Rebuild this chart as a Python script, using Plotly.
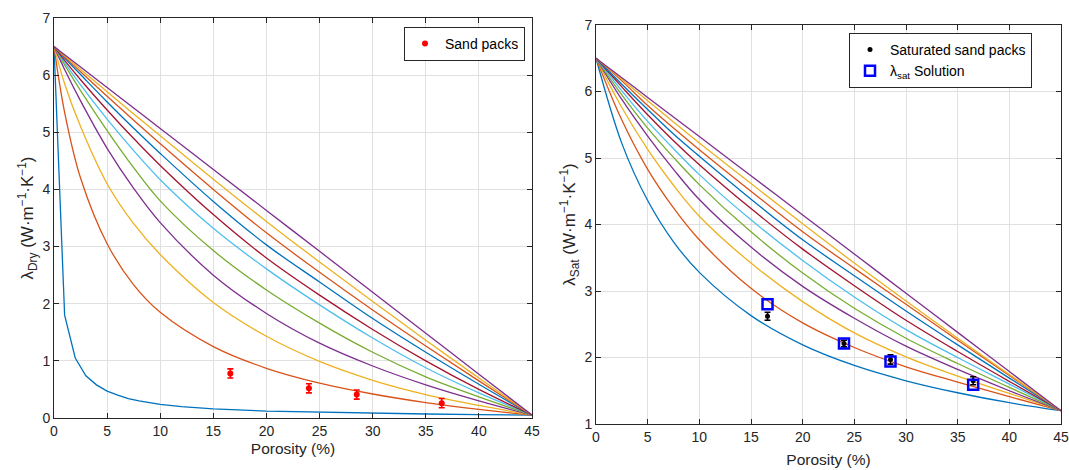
import plotly.graph_objects as go

# ---------------- data ----------------
phi_dry_c1 = [0, 1, 2, 3, 4, 5, 6, 7, 8, 10, 12, 15, 20, 25, 30, 35, 40, 45]
dry_c1 = [6.5, 1.8, 1.05, 0.74, 0.58, 0.47, 0.40, 0.34, 0.30, 0.24, 0.20, 0.16, 0.12, 0.10, 0.08, 0.07, 0.06, 0.05]

phi_dry = [0, 1, 2.5, 5, 7.5, 10, 15, 20, 25, 30, 35, 40, 45]
dry_c2 = [6.5, 5.35, 4.2, 3.05, 2.33, 1.85, 1.25, 0.87, 0.61, 0.42, 0.27, 0.15, 0.05]
dry_c3 = [6.5, 5.85, 5.1, 4.10, 3.40, 2.86, 2.02, 1.43, 0.99, 0.66, 0.41, 0.22, 0.05]
dry_c4 = [6.5, 6.10, 5.55, 4.72, 4.02, 3.42, 2.50, 1.83, 1.31, 0.91, 0.58, 0.30, 0.05]
dry_c5 = [6.5, 6.18, 5.73, 5.03, 4.38, 3.80, 2.93, 2.24, 1.66, 1.15, 0.72, 0.37, 0.05]
dry_c6 = [6.5, 6.22, 5.83, 5.23, 4.68, 4.17, 3.32, 2.61, 1.98, 1.40, 0.88, 0.44, 0.05]
dry_c7 = [6.5, 6.26, 5.92, 5.39, 4.89, 4.42, 3.56, 2.80, 2.15, 1.55, 1.00, 0.50, 0.05]
dry_c8 = [6.5, 6.30, 6.01, 5.53, 5.07, 4.63, 3.79, 3.03, 2.38, 1.74, 1.15, 0.59, 0.05]
dry_c9 = [6.5, 6.32, 6.06, 5.63, 5.21, 4.80, 4.00, 3.24, 2.55, 1.89, 1.26, 0.65, 0.05]
dry_c10 = [6.5, 6.34, 6.10, 5.71, 5.32, 4.94, 4.18, 3.44, 2.73, 2.04, 1.36, 0.70, 0.05]
dry_c11 = [6.5, 6.357, 6.142, 5.783, 5.425, 5.067, 4.35, 3.633, 2.917, 2.2, 1.483, 0.767, 0.05]

phi_sat = [0, 2.5, 5, 7.5, 10, 15, 20, 25, 30, 35, 40, 45]
sat_c1 = [6.5, 5.22, 4.36, 3.74, 3.28, 2.63, 2.19, 1.88, 1.65, 1.47, 1.32, 1.2]
sat_c2 = [6.5, 5.57, 4.83, 4.25, 3.77, 3.04, 2.52, 2.15, 1.86, 1.63, 1.41, 1.2]
sat_c3 = [6.5, 5.76, 5.13, 4.59, 4.125, 3.42, 2.84, 2.37, 2.01, 1.72, 1.46, 1.2]
sat_c4 = [6.5, 5.88, 5.33, 4.83, 4.375, 3.66, 3.07, 2.59, 2.17, 1.82, 1.50, 1.2]
sat_c5 = [6.5, 5.95, 5.45, 5.01, 4.60, 3.89, 3.27, 2.74, 2.29, 1.91, 1.55, 1.2]
sat_c6 = [6.5, 6.01, 5.55, 5.14, 4.75, 4.07, 3.46, 2.91, 2.42, 2.00, 1.60, 1.2]
sat_c7 = [6.5, 6.07, 5.65, 5.26, 4.90, 4.24, 3.63, 3.08, 2.56, 2.09, 1.64, 1.2]
sat_c8 = [6.5, 6.11, 5.73, 5.36, 5.025, 4.38, 3.77, 3.23, 2.70, 2.19, 1.69, 1.2]
sat_c9 = [6.5, 6.16, 5.79, 5.45, 5.125, 4.50, 3.89, 3.34, 2.80, 2.26, 1.73, 1.2]
sat_c10 = [6.5, 6.185, 5.86, 5.54, 5.225, 4.615, 4.01, 3.42, 2.85, 2.29, 1.745, 1.2]
sat_c11 = [6.5, 6.206, 5.911, 5.617, 5.322, 4.733, 4.144, 3.556, 2.967, 2.378, 1.789, 1.2]

sample_phi = [16.6, 24.0, 28.5, 36.5]
dry_meas = [0.78, 0.52, 0.41, 0.26]
dry_err = [0.08, 0.08, 0.08, 0.08]
sat_meas = [2.62, 2.21, 1.97, 1.65]
sat_err = [0.06, 0.05, 0.07, 0.06]
sat_solution = [2.80, 2.21, 1.94, 1.59]

# MATLAB default colour order
colors = ["#0072BD", "#D95319", "#EDB120", "#7E2F8E", "#77AC30", "#4DBEEE", "#A2142F",
          "#0072BD", "#D95319", "#EDB120", "#7E2F8E"]

FONT = "Liberation Sans, Arial, Helvetica, sans-serif"

fig = go.Figure()

dry_curves = [dry_c2, dry_c3, dry_c4, dry_c5, dry_c6, dry_c7, dry_c8, dry_c9, dry_c10, dry_c11]
sat_curves = [sat_c1, sat_c2, sat_c3, sat_c4, sat_c5, sat_c6, sat_c7, sat_c8, sat_c9, sat_c10, sat_c11]

fig.add_trace(go.Scatter(x=phi_dry_c1, y=dry_c1, mode="lines", line=dict(color=colors[0], width=1.3),
                         showlegend=False, xaxis="x", yaxis="y"))
for i, ys in enumerate(dry_curves):
    fig.add_trace(go.Scatter(x=phi_dry, y=ys, mode="lines",
                             line=dict(color=colors[i + 1], width=1.3, shape="spline", smoothing=1.0),
                             showlegend=False, xaxis="x", yaxis="y"))

for i, ys in enumerate(sat_curves):
    fig.add_trace(go.Scatter(x=phi_sat, y=ys, mode="lines",
                             line=dict(color=colors[i], width=1.3, shape="spline", smoothing=1.0),
                             showlegend=False, xaxis="x2", yaxis="y2"))

fig.add_trace(go.Scatter(x=sample_phi, y=dry_meas, mode="markers", name="Sand packs",
                         marker=dict(color="#FF0000", size=6, symbol="circle"),
                         error_y=dict(type="data", array=dry_err, color="#FF0000", thickness=1.6, width=3),
                         xaxis="x", yaxis="y", legend="legend"))

fig.add_trace(go.Scatter(x=sample_phi, y=sat_meas, mode="markers", name="Saturated sand packs",
                         marker=dict(color="#000000", size=5, symbol="circle"),
                         error_y=dict(type="data", array=sat_err, color="#000000", thickness=1.6, width=3),
                         xaxis="x2", yaxis="y2", legend="legend2"))
fig.add_trace(go.Scatter(x=sample_phi, y=sat_solution, mode="markers", name="λ<sub>sat</sub> Solution",
                         marker=dict(color="rgba(0,0,0,0)", size=10, symbol="square",
                                     line=dict(color="#0000FF", width=2.5)),
                         xaxis="x2", yaxis="y2", legend="legend2"))

axis_common = dict(
    showline=True, linecolor="#262626", linewidth=1, mirror="ticks",
    ticks="inside", ticklen=5, tickcolor="#262626",
    showgrid=True, gridcolor="#e0e0e0", gridwidth=1, zeroline=False, automargin=False,
    tickfont=dict(family=FONT, size=14, color="#262626"),
)

fig.update_layout(
    width=1069, height=470,
    margin=dict(l=0, r=0, t=0, b=0, autoexpand=False),
    paper_bgcolor="white", plot_bgcolor="white",
    font=dict(family=FONT, size=14, color="#262626"),
    xaxis=dict(domain=[54 / 1069, 532 / 1069], range=[0, 45], tickvals=list(range(0, 46, 5)),
               title=dict(text="Porosity (%)", standoff=5, font=dict(family=FONT, size=15.5)),
               anchor="y", **axis_common),
    yaxis=dict(domain=[1 - 418 / 470, 1 - 18 / 470], range=[0, 7], tickvals=list(range(0, 8)),
               title=dict(text="λ<sub>Dry</sub> (W·m<sup>−1</sup>·K<sup>−1</sup>)", standoff=4,
                          font=dict(family=FONT, size=17)),
               anchor="x", **axis_common),
    xaxis2=dict(domain=[596 / 1069, 1061 / 1069], range=[0, 45], tickvals=list(range(0, 46, 5)),
                title=dict(text="Porosity (%)", standoff=10, font=dict(family=FONT, size=15.5)),
                anchor="y2", **axis_common),
    yaxis2=dict(domain=[1 - 424 / 470, 1 - 25 / 470], range=[1, 7], tickvals=list(range(1, 8)),
                title=dict(text="λ<sub>Sat</sub> (W·m<sup>−1</sup>·K<sup>−1</sup>)", standoff=4,
                           font=dict(family=FONT, size=17)),
                anchor="x2", **axis_common),
    legend=dict(x=525 / 1069, y=1 - 27 / 470, xanchor="right", yanchor="top",
                bgcolor="white", bordercolor="#262626", borderwidth=1,
                font=dict(family=FONT, size=14, color="#000000"), tracegroupgap=0),
    legend2=dict(x=1032 / 1069, y=1 - 33 / 470, xanchor="right", yanchor="top",
                 bgcolor="white", bordercolor="#262626", borderwidth=1,
                 font=dict(family=FONT, size=14, color="#000000"), tracegroupgap=0),
)

fig.write_html("out.html")
